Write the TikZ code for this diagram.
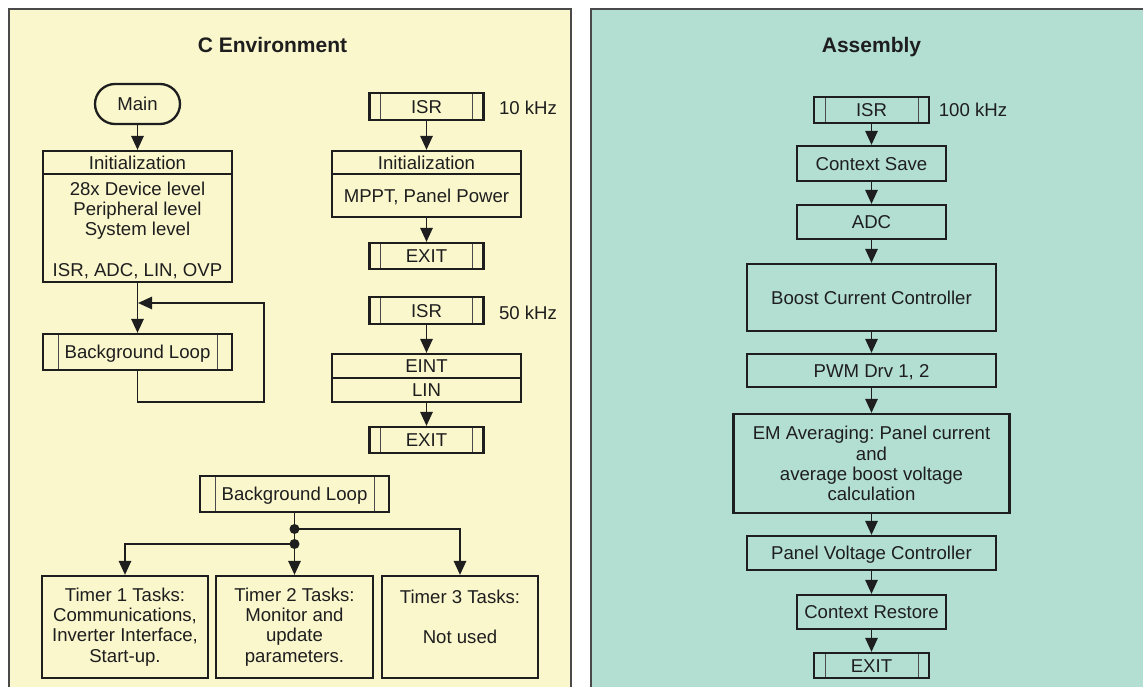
\documentclass[tikz,border=0pt]{standalone}
\usepackage{fontspec}
\setmainfont{Liberation Sans}
\usetikzlibrary{arrows.meta}
\definecolor{panelY}{HTML}{FAF7CD}
\definecolor{panelG}{HTML}{B3DFD2}
\definecolor{ink}{HTML}{1E1E1E}
\definecolor{edgec}{HTML}{4A4A4A}
\frenchspacing
\begin{document}
\begin{tikzpicture}[x=1pt,y=-1pt,
  every node/.style={font=\fontsize{18.6}{20.3}\selectfont\frenchspacing, text=ink},
  box/.style={draw=ink, line width=2.3pt, inner sep=0pt},
  one/.style={text height=13.2pt, text depth=0pt},
  multi/.style={align=center},
  sub/.style={box, one, path picture={
      \draw[line width=1pt, edgec] ([xshift=#1]path picture bounding box.north west) -- ([xshift=#1]path picture bounding box.south west);
      \draw[line width=1pt, edgec] ([xshift=-#1]path picture bounding box.north east) -- ([xshift=-#1]path picture bounding box.south east);}},
  sub/.default=11pt,
  conn/.style={draw=ink, line width=1.4pt},
  arr/.style={conn, -{Triangle[length=14pt,width=12.5pt]}},
  sep/.style={draw=ink, line width=2.3pt},
  title/.style={font=\fontsize{21}{24}\selectfont\bfseries, text height=15pt, text depth=0pt},
  dot/.style={circle, fill=ink, inner sep=0pt, minimum size=10pt}
]
\useasboundingbox (0,0) rectangle (1143,687);
\fill[white] (0,0) rectangle (1143,687);
% panels
\fill[panelY] (9,9) rectangle (571,700);
\draw[edgec, line width=2pt] (9,700) -- (9,9) -- (571,9) -- (571,700);
\fill[panelG] (591,9) rectangle (1150,700);
\draw[edgec, line width=2pt] (591,700) -- (591,9) -- (1150,9);

\node[title] (tC) at (272.5,45) {C Environment};
\node[title] (tA) at (871.5,45) {Assembly};

% ---- left column 1
\node[box, one, rounded corners=20pt, minimum width=85pt, minimum height=40pt] (main) at (137.5,104) {Main};
\node[box, minimum width=189pt, minimum height=131pt] (init1) at (137.5,216.5) {};
\draw[sep] (init1.west |- 0,174) -- (init1.east |- 0,174);
\node[one] (init1h) at (137.5,163) {Initialization};
\node[multi, anchor=north, inner sep=0pt] (init1b) at (137.5,181.4) {28x Device level\\Peripheral level\\System level\\~\\ISR, ADC, LIN, OVP};
\node[sub=15pt, minimum width=189pt, minimum height=36pt] (bg1) at (137.5,352) {Background Loop};
\coordinate (loopin) at (137.5,303);
\draw[arr] (main) -- (init1);
\draw[arr] (init1) -- (bg1);
\draw[arr, shorten >=0.6pt] (bg1.south) |- (264,402) |- (loopin);

% ---- left column 2
\node[sub, minimum width=114pt, minimum height=27pt] (isr1) at (426.5,106.5) {ISR};
\node[one] (f10) at (528,108) {10 kHz};
\node[box, minimum width=189pt, minimum height=66pt] (init2) at (426.5,184) {};
\draw[sep] (init2.west |- 0,174) -- (init2.east |- 0,174);
\node[one] (init2h) at (426.5,163) {Initialization};
\node[one] (init2b) at (426.5,196) {MPPT, Panel Power};
\node[sub, minimum width=114pt, minimum height=26pt] (exit1) at (426.5,256) {EXIT};
\draw[arr] (isr1) -- (init2);
\draw[arr] (init2) -- (exit1);

\node[sub, minimum width=114pt, minimum height=27pt] (isr2) at (426.5,310.5) {ISR};
\node[one] (f50) at (528,313) {50 kHz};
\node[box, minimum width=189pt, minimum height=48pt] (eint) at (426.5,378) {};
\draw[sep] (eint.west) -- (eint.east);
\node[one] (eintt) at (426.5,366) {EINT};
\node[one] (lint) at (426.5,390) {LIN};
\node[sub, minimum width=114pt, minimum height=26pt] (exit2) at (426.5,440) {EXIT};
\draw[arr] (isr2) -- (eint);
\draw[arr] (eint) -- (exit2);

% ---- bottom
\node[sub=15pt, minimum width=189pt, minimum height=36pt] (bg2) at (294.5,494) {Background Loop};
\node[dot] (d1) at (294.5,529) {};
\node[dot] (d2) at (294.5,544) {};
\node[box, multi, minimum width=166pt, minimum height=102pt] (t1) at (125,627) {Timer 1 Tasks:\\Communications,\\Inverter Interface,\\Start-up.};
\node[box, multi, minimum width=157pt, minimum height=102pt] (t2) at (294.5,627) {Timer 2 Tasks:\\Monitor and\\update\\parameters.};
\node[box, multi, minimum width=156pt, minimum height=102pt] (t3) at (460,627) {Timer 3 Tasks:\\~\\Not used\\~};
\draw[conn] (bg2.south) -- (d1);
\draw[conn] (d1) -- (d2);
\draw[arr] (d2) -- (t2.north);
\draw[arr] (d1.center) -| (t3.north);
\draw[arr] (d2.center) -| (t1.north);

% ---- right column
\node[sub, minimum width=115pt, minimum height=26pt] (isr3) at (871.5,110) {ISR};
\node[one] (f100) at (973,110) {100 kHz};
\node[box, one, minimum width=149pt, minimum height=35pt] (cs) at (871.5,163.5) {Context Save};
\node[box, one, minimum width=149pt, minimum height=34pt] (adc) at (871.5,222) {ADC};
\node[box, one, minimum width=249pt, minimum height=67pt] (bcc) at (871.5,297.5) {Boost Current Controller};
\node[box, one, minimum width=249pt, minimum height=33pt] (pwm) at (871.5,370.5) {PWM Drv 1, 2};
\node[box, multi, minimum width=276pt, minimum height=99pt] (em) at (871.5,463.5) {EM Averaging: Panel current\\and\\average boost voltage\\calculation};
\node[box, one, minimum width=249pt, minimum height=34pt] (pvc) at (871.5,553) {Panel Voltage Controller};
\node[box, one, minimum width=149pt, minimum height=34pt] (cr) at (871.5,612) {Context Restore};
\node[sub, minimum width=115pt, minimum height=25pt] (exit3) at (871.5,665.5) {EXIT};
\draw[arr] (isr3) -- (cs);
\draw[arr] (cs) -- (adc);
\draw[arr] (adc) -- (bcc);
\draw[arr] (bcc) -- (pwm);
\draw[arr] (pwm) -- (em);
\draw[arr] (em) -- (pvc);
\draw[arr] (pvc) -- (cr);
\draw[arr] (cr) -- (exit3);
\end{tikzpicture}
\end{document}
